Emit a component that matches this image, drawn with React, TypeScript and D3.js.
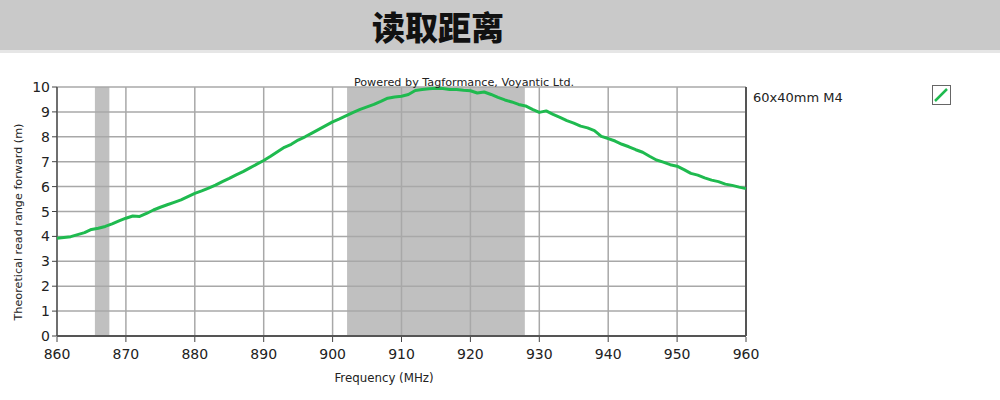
import { useMemo } from 'react';
import * as d3 from 'd3';

const title = '读取距离';
const poweredBy = 'Powered by Tagformance, Voyantic Ltd.';
const seriesName = '60x40mm M4';
const xLabel = 'Frequency (MHz)';
const yLabel = 'Theoretical read range forward (m)';

const xTicks = [860, 870, 880, 890, 900, 910, 920, 930, 940, 950, 960];
const yTicks = [0, 1, 2, 3, 4, 5, 6, 7, 8, 9, 10];

// shaded frequency bands (MHz)
const bands = [
  [865.5, 867.6],
  [902.1, 927.9],
];

const freq = [
  860, 862, 864, 865, 866, 867, 868, 869, 870, 871, 872, 873, 874, 875, 876, 877, 878, 879,
  880, 881, 882, 883, 884, 885, 886, 887, 888, 889, 890, 891, 892, 893, 894, 895, 896, 897,
  898, 899, 900, 901, 902, 903, 904, 905, 906, 907, 908, 909, 910, 911, 912, 913, 914, 915,
  916, 917, 918, 919, 920, 921, 922, 923, 924, 925, 926, 927, 928, 929, 930, 931, 932, 933,
  934, 935, 936, 937, 938, 939, 940, 941, 942, 943, 944, 945, 946, 947, 948, 949, 950, 951,
  952, 953, 954, 955, 956, 957, 958, 959, 960,
];
const range = [
  3.93, 3.99, 4.15, 4.28, 4.33, 4.4, 4.5, 4.62, 4.73, 4.82, 4.8, 4.92, 5.06, 5.17, 5.27, 5.37,
  5.47, 5.6, 5.73, 5.83, 5.94, 6.06, 6.2, 6.33, 6.47, 6.6, 6.75, 6.9, 7.05, 7.22, 7.4, 7.58,
  7.7, 7.87, 8.0, 8.15, 8.3, 8.45, 8.6, 8.72, 8.85, 8.98, 9.1, 9.2, 9.3, 9.42, 9.55, 9.6, 9.63,
  9.7, 9.86, 9.9, 9.93, 9.95, 9.94, 9.9, 9.9, 9.87, 9.85, 9.76, 9.8, 9.7, 9.58, 9.48, 9.4, 9.3,
  9.24, 9.1, 8.98, 9.04, 8.9, 8.78, 8.65, 8.55, 8.43, 8.36, 8.25, 8.02, 7.93, 7.83, 7.7, 7.6,
  7.48, 7.38, 7.22, 7.07, 6.98, 6.88, 6.82, 6.68, 6.53, 6.46, 6.35, 6.26, 6.2, 6.1, 6.05, 5.98,
  5.92,
];

const W = 1000;
const H = 400;
const plot = { left: 57, right: 746, top: 87, bottom: 336 };
const font = 'Tahoma, "DejaVu Sans", sans-serif';
const green = '#1fba4f';

export default function App() {
  const x = d3.scaleLinear().domain([860, 960]).range([plot.left, plot.right]);
  const y = d3.scaleLinear().domain([0, 10]).range([plot.bottom, plot.top]);

  const path = useMemo(() => {
    const line = d3
      .line<number>()
      .x((_, i) => x(freq[i]))
      .y((d) => y(d));
    return line(range) || '';
  }, []);

  return (
    <div style={{ position: 'absolute', left: 0, top: 0 }}>
      <svg width={W} height={H} viewBox={`0 0 ${W} ${H}`} style={{ display: 'block', background: '#fff' }}>
        {/* header band */}
        <rect x={0} y={0} width={W} height={50} fill="#c9c9c9" />
        <rect x={0} y={50} width={W} height={3} fill="#e6e6e6" />
        <text
          x={438}
          y={40}
          textAnchor="middle"
          fontFamily='"Noto Sans CJK SC", sans-serif'
          fontWeight={900}
          fontSize={33}
          fill="#111"
        >
          {title}
        </text>

        {/* bands */}
        {bands.map(([a, b], i) => (
          <rect key={i} x={x(a)} y={plot.top} width={x(b) - x(a)} height={plot.bottom - plot.top} fill="#c0c0c0" />
        ))}

        {/* grid */}
        {xTicks.map((t) => (
          <line key={'gx' + t} x1={x(t)} x2={x(t)} y1={plot.top} y2={plot.bottom} stroke="#a8a8a8" strokeWidth={1.5} />
        ))}
        {yTicks.map((t) => (
          <line key={'gy' + t} x1={plot.left} x2={plot.right} y1={y(t)} y2={y(t)} stroke="#a8a8a8" strokeWidth={1.5} />
        ))}

        {/* frame */}
        <line x1={plot.left} x2={plot.left} y1={plot.top} y2={plot.bottom} stroke="#555" strokeWidth={1.5} />
        <line x1={plot.left} x2={plot.right} y1={plot.bottom} y2={plot.bottom} stroke="#555" strokeWidth={2} />
        <line x1={plot.right} x2={plot.right} y1={plot.top} y2={plot.bottom} stroke="#555" strokeWidth={2} />

        {/* series */}
        <path d={path} fill="none" stroke={green} strokeWidth={3} strokeLinejoin="round" />

        {/* y axis */}
        {yTicks.map((t) => (
          <g key={'ty' + t}>
            <line x1={plot.left - 5} x2={plot.left} y1={y(t)} y2={y(t)} stroke="#444" strokeWidth={1} />
            <text x={plot.left - 7} y={y(t) + 5} textAnchor="end" fontFamily={font} fontSize={14} fill="#222">
              {t}
            </text>
          </g>
        ))}
        {/* x axis */}
        {xTicks.map((t) => (
          <g key={'tx' + t}>
            <line x1={x(t)} x2={x(t)} y1={plot.bottom + 1} y2={plot.bottom + 6} stroke="#444" strokeWidth={1} />
            <text x={x(t)} y={plot.bottom + 23} textAnchor="middle" fontFamily={font} fontSize={14} fill="#222">
              {t}
            </text>
          </g>
        ))}

        <text x={384} y={382} textAnchor="middle" fontFamily={font} fontSize={11.8} fill="#222">
          {xLabel}
        </text>
        <text
          transform={`translate(22,222) rotate(-90)`}
          textAnchor="middle"
          fontFamily={font}
          fontSize={11.2}
          fill="#222"
        >
          {yLabel}
        </text>

        <text x={464} y={86} textAnchor="middle" fontFamily={font} fontSize={11.2} fill="#222">
          {poweredBy}
        </text>

        {/* legend */}
        <text x={753} y={102} fontFamily={font} fontSize={13} fill="#222">
          {seriesName}
        </text>
        <rect x={932.5} y={85.5} width={18} height={19} fill="#fff" stroke="#666" strokeWidth={1} />
        <line x1={935} x2={947} y1={101} y2={89} stroke={green} strokeWidth={2.5} />
      </svg>
    </div>
  );
}
